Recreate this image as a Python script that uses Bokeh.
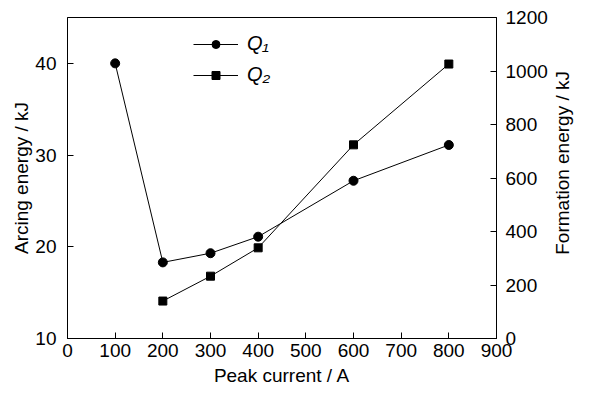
import math
from bokeh.plotting import figure
from bokeh.layouts import row
from bokeh.models import Range1d, LinearAxis, Legend, LegendItem, FixedTicker, Label
from bokeh.embed import file_html
from bokeh.resources import INLINE

peak_current = [100, 200, 300, 400, 600, 800]
q1_arcing = [40.0, 18.3, 19.3, 21.1, 27.2, 31.1]
q2_current = [200, 300, 400, 600, 800]
q2_formation = [140, 233, 339, 724, 1026]

x_ticks = [0, 100, 200, 300, 400, 500, 600, 700, 800, 900]
left_ticks = [10, 20, 30, 40]
right_ticks = [0, 200, 400, 600, 800, 1000, 1200]

FONT = "Liberation Sans"
FS = "19px"

p = figure(width=550, height=398, output_backend="svg", toolbar_location=None,
           x_range=Range1d(0, 900), y_range=Range1d(10, 45),
           min_border_left=67, min_border_top=17, min_border_right=51, min_border_bottom=60)
p.extra_y_ranges = {"right": Range1d(0, 1200)}
p.xgrid.visible = False
p.ygrid.visible = False
p.outline_line_color = "black"
p.outline_line_width = 1
p.background_fill_color = "white"
p.border_fill_color = "white"

def style_axis(ax, standoff, label_standoff):
    ax.major_tick_in = 6
    ax.major_tick_out = 0
    ax.minor_tick_in = 0
    ax.minor_tick_out = 0
    ax.axis_line_color = "black"
    ax.major_tick_line_color = "black"
    ax.major_label_text_font = FONT
    ax.major_label_text_font_size = FS
    ax.major_label_text_color = "black"
    ax.axis_label_text_font = FONT
    ax.axis_label_text_font_size = FS
    ax.axis_label_text_font_style = "normal"
    ax.axis_label_text_color = "black"
    ax.major_label_standoff = standoff
    ax.axis_label_standoff = label_standoff

p.xaxis.ticker = FixedTicker(ticks=x_ticks)
p.xaxis.axis_label = "Peak current / A"
style_axis(p.xaxis[0], 5, 5)

p.yaxis.ticker = FixedTicker(ticks=left_ticks)
p.yaxis.axis_label = "Arcing energy / kJ"
style_axis(p.yaxis[0], 11, 0)

ry = LinearAxis(y_range_name="right", ticker=FixedTicker(ticks=right_ticks))
style_axis(ry, 9, 2)
p.add_layout(ry, "right")

l1 = p.line(peak_current, q1_arcing, line_color="black", line_width=1)
s1 = p.scatter(peak_current, q1_arcing, marker="circle", size=9,
               fill_color="black", line_color="black")
l2 = p.line(q2_current, q2_formation, line_color="black", line_width=1, y_range_name="right")
s2 = p.scatter(q2_current, q2_formation, marker="square", size=8,
               fill_color="black", line_color="black", y_range_name="right")

legend = Legend(items=[LegendItem(label="Q\u2081", renderers=[l1, s1]),
                       LegendItem(label="Q\u2082", renderers=[l2, s2])],
                location=(126, 252), margin=0, padding=0,
                border_line_color=None, background_fill_alpha=0,
                glyph_width=45, glyph_height=20, label_height=20,
                spacing=8, label_standoff=9,
                label_text_font=FONT, label_text_font_size="20px",
                label_text_font_style="italic", label_text_color="black")
p.add_layout(legend, "center")

# narrow strip carrying the right-axis title, reading bottom-to-top
p2 = figure(width=53, height=398, output_backend="svg", toolbar_location=None,
            x_range=Range1d(0, 53), y_range=Range1d(0, 398),
            x_axis_type=None, y_axis_type=None,
            min_border_left=0, min_border_right=0, min_border_top=0, min_border_bottom=0)
p2.xgrid.visible = False
p2.ygrid.visible = False
p2.outline_line_color = None
p2.background_fill_color = "white"
p2.border_fill_color = "white"
right_title = Label(x=12, y=221, x_units="data", y_units="data",
                    text="Formation  energy / kJ", angle=math.pi / 2,
                    text_align="center", text_baseline="middle",
                    text_font=FONT, text_font_size=FS, text_color="black")
p2.add_layout(right_title)

open("out.html", "w").write(file_html(row(p, p2, spacing=0), INLINE))
